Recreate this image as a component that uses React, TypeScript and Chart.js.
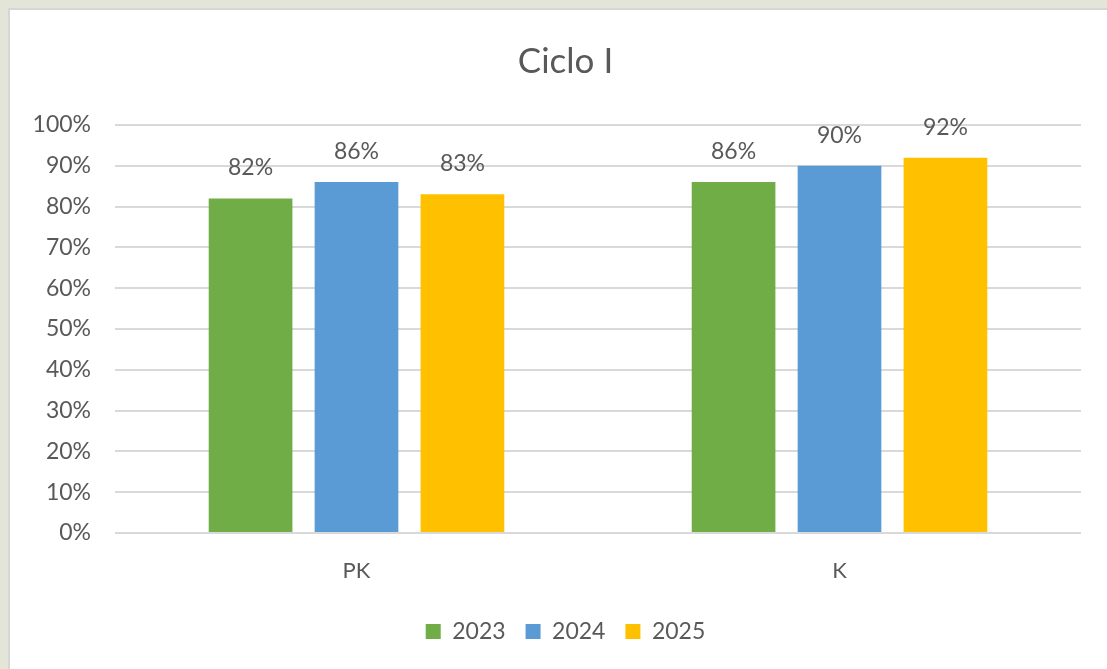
import React, { useEffect, useRef } from "react";
import { Chart, registerables } from "chart.js";

Chart.register(...registerables);

const categories = ["PK", "K"];
const seriesNames = ["2023", "2024", "2025"];
const values2023 = [82, 86];
const values2024 = [86, 90];
const values2025 = [83, 92];
const yTicks = [0, 10, 20, 30, 40, 50, 60, 70, 80, 90, 100];

const FONT = "Lato, 'Open Sans', sans-serif";
const TEXT = "#595959";

const dataLabels = {
  id: "dataLabels",
  afterDatasetsDraw(chart: any) {
    const ctx = chart.ctx;
    ctx.save();
    ctx.font = `23px ${FONT}`;
    ctx.fillStyle = TEXT;
    ctx.textAlign = "center";
    ctx.textBaseline = "alphabetic";
    chart.data.datasets.forEach((ds: any, i: number) => {
      const meta = chart.getDatasetMeta(i);
      meta.data.forEach((el: any, j: number) => {
        ctx.fillText(ds.data[j] + "%", el.x, el.y - 23);
      });
    });
    ctx.restore();
  },
};

export default function App() {
  const ref = useRef<HTMLCanvasElement>(null);
  useEffect(() => {
    if (!ref.current) return;
    const chart = new Chart(ref.current, {
      type: "bar",
      data: {
        labels: categories,
        datasets: [
          { label: seriesNames[0], data: values2023, backgroundColor: "#70ad47" },
          { label: seriesNames[1], data: values2024, backgroundColor: "#5b9bd5" },
          { label: seriesNames[2], data: values2025, backgroundColor: "#ffc000" },
        ],
      },
      options: {
        animation: false,
        responsive: false,
        datasets: { bar: { categoryPercentage: 0.658, barPercentage: 0.79 } },
        layout: { padding: { left: 0, right: 0, top: 0, bottom: 16 } },
        plugins: {
          tooltip: { enabled: false },
          title: {
            display: true,
            text: "Ciclo I",
            color: TEXT,
            font: { family: FONT, size: 35, weight: "normal" },
            padding: { top: 31, bottom: 42 },
          },
          legend: {
            position: "bottom",
            labels: {
              color: TEXT,
              font: { family: FONT, size: 23 },
              boxWidth: 15,
              boxHeight: 15,
              padding: 20,
            },
          },
        },
        scales: {
          x: {
            grid: { display: false, drawTicks: false },
            border: { display: false },
            ticks: { color: TEXT, font: { family: FONT, size: 22 }, padding: 25 },
            afterFit: (s: any) => { s.height = 67; },
          },
          y: {
            min: 0,
            max: 100,
            afterBuildTicks: (s: any) => { s.ticks = yTicks.map((v) => ({ value: v })); },
            grid: { color: "#d9d9d9", lineWidth: 2, drawTicks: false },
            border: { display: false },
            ticks: {
              color: TEXT,
              font: { family: FONT, size: 23 },
              padding: 24,
              callback: (v: any) => v + "%",
            },
            afterFit: (s: any) => { s.width = 105; },
          },
          yRight: {
            position: "right",
            min: 0,
            max: 100,
            grid: { display: false, drawTicks: false },
            border: { display: false },
            ticks: { display: false },
            afterFit: (s: any) => { s.width = 40; },
          },
        },
      },
      plugins: [dataLabels],
    });
    return () => chart.destroy();
  }, []);
  return (
    <div style={{ position: "fixed", inset: 0, background: "#e4e5d9", overflow: "hidden" }}>
      <div
        style={{
          position: "absolute",
          left: 8,
          top: 8,
          right: -30,
          bottom: -10,
          background: "#ffffff",
          border: "2px solid #d6d6d6",
        }}
      >
        <canvas ref={ref} width={1111} height={659} style={{ display: "block" }} />
      </div>
    </div>
  );
}
